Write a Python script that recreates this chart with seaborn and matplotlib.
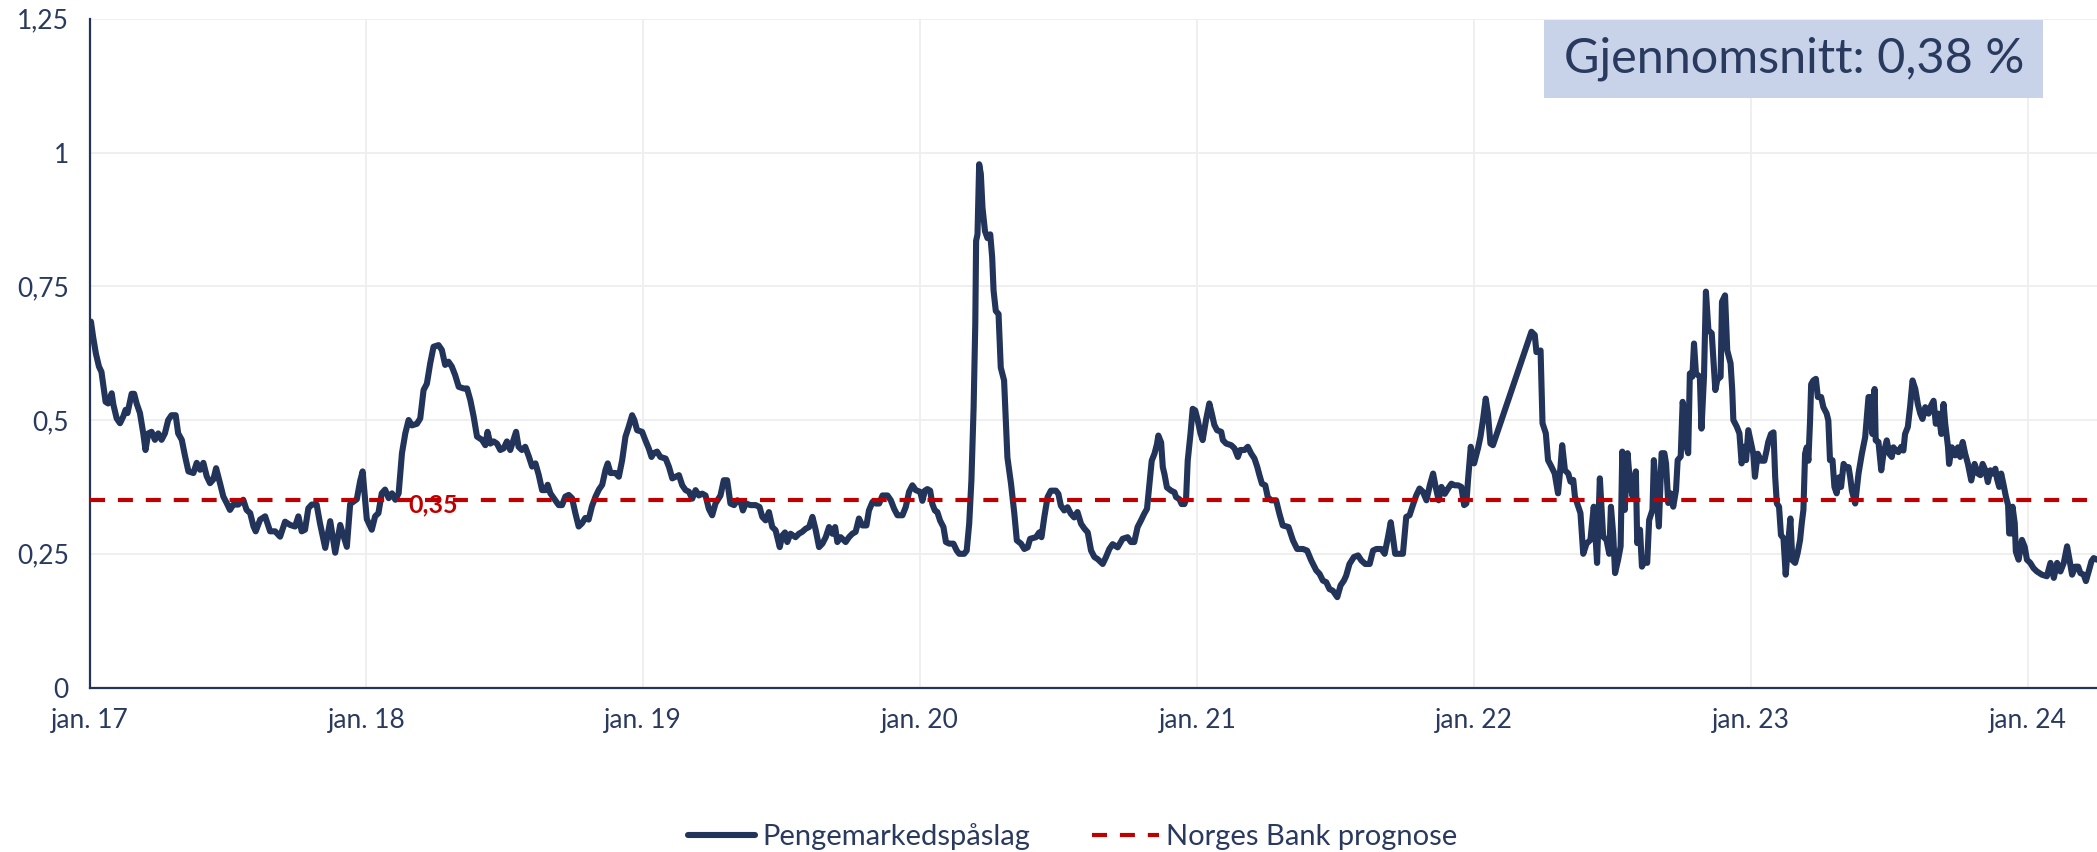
import numpy as np
import pandas as pd
import matplotlib
matplotlib.use('Agg')
import matplotlib.pyplot as plt
import matplotlib.dates as mdates
from matplotlib.patches import Rectangle
import seaborn as sns

# ==============================================================================
# DATA  (dato som desimalår, påslag i prosentpoeng)
# ==============================================================================
AAR_2017 = [2017.005, 2017.013, 2017.023, 2017.034, 2017.043, 2017.049, 2017.058, 2017.067, 2017.080, 2017.086,
            2017.098, 2017.110, 2017.122, 2017.130, 2017.137, 2017.152, 2017.161, 2017.170, 2017.182, 2017.194,
            2017.202, 2017.212, 2017.224, 2017.236, 2017.248, 2017.260, 2017.272, 2017.284, 2017.296, 2017.311,
            2017.320, 2017.333, 2017.345, 2017.357, 2017.375, 2017.387, 2017.399, 2017.411, 2017.423, 2017.435,
            2017.447, 2017.457, 2017.471, 2017.483, 2017.495, 2017.507, 2017.519, 2017.537, 2017.555, 2017.567,
            2017.580, 2017.592, 2017.600, 2017.616, 2017.634, 2017.652, 2017.670, 2017.688, 2017.706, 2017.724,
            2017.742, 2017.754, 2017.766, 2017.778, 2017.790, 2017.802, 2017.820, 2017.832, 2017.851, 2017.869,
            2017.887, 2017.905, 2017.929, 2017.941, 2017.965, 2017.977, 2017.986]
VERDI_2017 = [0.684, 0.655, 0.624, 0.600, 0.590, 0.568, 0.534, 0.531, 0.550, 0.529,
              0.503, 0.494, 0.507, 0.519, 0.513, 0.549, 0.549, 0.531, 0.513, 0.475,
              0.444, 0.475, 0.478, 0.463, 0.475, 0.463, 0.475, 0.500, 0.509, 0.509,
              0.475, 0.463, 0.432, 0.404, 0.401, 0.420, 0.407, 0.420, 0.395, 0.382,
              0.389, 0.410, 0.382, 0.357, 0.345, 0.332, 0.342, 0.342, 0.351, 0.332,
              0.326, 0.301, 0.292, 0.314, 0.320, 0.292, 0.292, 0.282, 0.310, 0.304,
              0.301, 0.320, 0.292, 0.295, 0.335, 0.342, 0.342, 0.307, 0.261, 0.311,
              0.252, 0.304, 0.263, 0.343, 0.352, 0.386, 0.404]

AAR_2018 = [2018.001, 2018.019, 2018.031, 2018.043, 2018.055, 2018.067, 2018.080, 2018.092, 2018.104, 2018.116,
            2018.128, 2018.140, 2018.152, 2018.164, 2018.182, 2018.194, 2018.206, 2018.218, 2018.230, 2018.242,
            2018.260, 2018.272, 2018.284, 2018.296, 2018.308, 2018.320, 2018.333, 2018.351, 2018.363, 2018.375,
            2018.387, 2018.399, 2018.417, 2018.429, 2018.437, 2018.447, 2018.459, 2018.471, 2018.483, 2018.495,
            2018.507, 2018.519, 2018.529, 2018.540, 2018.549, 2018.561, 2018.573, 2018.586, 2018.598, 2018.610,
            2018.622, 2018.634, 2018.646, 2018.654, 2018.664, 2018.676, 2018.694, 2018.706, 2018.718, 2018.730,
            2018.742, 2018.754, 2018.766, 2018.778, 2018.790, 2018.802, 2018.814, 2018.827, 2018.839, 2018.851,
            2018.863, 2018.871, 2018.881, 2018.899, 2018.911, 2018.923, 2018.935, 2018.947, 2018.959, 2018.967,
            2018.977, 2018.995]
VERDI_2018 = [0.315, 0.295, 0.320, 0.326, 0.363, 0.370, 0.354, 0.363, 0.351, 0.363,
              0.438, 0.475, 0.500, 0.490, 0.493, 0.503, 0.556, 0.568, 0.606, 0.637,
              0.640, 0.631, 0.603, 0.609, 0.600, 0.584, 0.562, 0.559, 0.559, 0.537,
              0.506, 0.469, 0.463, 0.453, 0.478, 0.456, 0.460, 0.456, 0.444, 0.447,
              0.460, 0.444, 0.460, 0.478, 0.450, 0.444, 0.450, 0.432, 0.413, 0.419,
              0.397, 0.369, 0.369, 0.379, 0.363, 0.354, 0.341, 0.341, 0.357, 0.360,
              0.354, 0.326, 0.301, 0.307, 0.317, 0.314, 0.339, 0.357, 0.370, 0.379,
              0.407, 0.419, 0.401, 0.401, 0.394, 0.425, 0.469, 0.488, 0.509, 0.500,
              0.481, 0.478]

AAR_2019 = [2019.007, 2019.019, 2019.029, 2019.037, 2019.049, 2019.061, 2019.080, 2019.092, 2019.104, 2019.116,
            2019.128, 2019.140, 2019.152, 2019.164, 2019.176, 2019.188, 2019.200, 2019.212, 2019.224, 2019.236,
            2019.248, 2019.260, 2019.278, 2019.290, 2019.302, 2019.314, 2019.327, 2019.339, 2019.351, 2019.359,
            2019.369, 2019.387, 2019.405, 2019.419, 2019.429, 2019.441, 2019.453, 2019.465, 2019.477, 2019.492,
            2019.501, 2019.511, 2019.519, 2019.531, 2019.549, 2019.561, 2019.573, 2019.586, 2019.598, 2019.610,
            2019.622, 2019.634, 2019.646, 2019.658, 2019.670, 2019.682, 2019.692, 2019.700, 2019.712, 2019.730,
            2019.742, 2019.754, 2019.766, 2019.778, 2019.790, 2019.805, 2019.814, 2019.827, 2019.839, 2019.851,
            2019.863, 2019.881, 2019.893, 2019.905, 2019.917, 2019.935, 2019.947, 2019.959, 2019.971, 2019.983,
            2019.998]
VERDI_2019 = [0.462, 0.447, 0.431, 0.438, 0.441, 0.431, 0.428, 0.4125, 0.391, 0.394,
              0.397, 0.378, 0.369, 0.366, 0.353, 0.369, 0.359, 0.3625, 0.359, 0.334,
              0.322, 0.344, 0.359, 0.3875, 0.3875, 0.344, 0.341, 0.350, 0.347, 0.331,
              0.344, 0.341, 0.341, 0.3375, 0.319, 0.3125, 0.328, 0.300, 0.294, 0.2625,
              0.284, 0.290, 0.272, 0.2875, 0.281, 0.2875, 0.291, 0.297, 0.300, 0.319,
              0.294, 0.2625, 0.269, 0.281, 0.300, 0.2875, 0.300, 0.272, 0.281, 0.272,
              0.281, 0.2875, 0.291, 0.316, 0.303, 0.303, 0.331, 0.347, 0.344, 0.344,
              0.359, 0.359, 0.350, 0.334, 0.322, 0.322, 0.3375, 0.366, 0.378, 0.369,
              0.366]

AAR_2020 = [2020.001, 2020.007, 2020.016, 2020.025, 2020.035, 2020.043, 2020.052, 2020.061, 2020.071, 2020.083,
            2020.092, 2020.104, 2020.119, 2020.131, 2020.140, 2020.158, 2020.167, 2020.176, 2020.184, 2020.192,
            2020.198, 2020.201, 2020.206, 2020.212, 2020.218, 2020.224, 2020.233, 2020.242, 2020.252, 2020.259,
            2020.264, 2020.272, 2020.282, 2020.290, 2020.302, 2020.314, 2020.327, 2020.339, 2020.348, 2020.363,
            2020.375, 2020.387, 2020.396, 2020.417, 2020.429, 2020.437, 2020.447, 2020.459, 2020.471, 2020.489,
            2020.498, 2020.507, 2020.519, 2020.531, 2020.543, 2020.555, 2020.567, 2020.580, 2020.592, 2020.604,
            2020.616, 2020.628, 2020.640, 2020.658, 2020.670, 2020.682, 2020.694, 2020.712, 2020.730, 2020.748,
            2020.760, 2020.772, 2020.784, 2020.796, 2020.808, 2020.818, 2020.827, 2020.835, 2020.845, 2020.854,
            2020.859, 2020.869, 2020.875, 2020.881, 2020.890, 2020.905, 2020.917, 2020.923, 2020.935, 2020.943,
            2020.953, 2020.959, 2020.965, 2020.975, 2020.983, 2020.992]
VERDI_2020 = [0.362, 0.349, 0.368, 0.371, 0.368, 0.343, 0.331, 0.328, 0.312, 0.300,
              0.272, 0.269, 0.269, 0.256, 0.250, 0.250, 0.256, 0.306, 0.387, 0.524,
              0.680, 0.835, 0.847, 0.978, 0.960, 0.897, 0.853, 0.840, 0.847, 0.804,
              0.742, 0.704, 0.698, 0.598, 0.574, 0.430, 0.381, 0.325, 0.275, 0.269,
              0.259, 0.262, 0.278, 0.281, 0.290, 0.281, 0.318, 0.356, 0.368, 0.368,
              0.362, 0.340, 0.331, 0.337, 0.325, 0.318, 0.328, 0.306, 0.297, 0.290,
              0.256, 0.244, 0.240, 0.231, 0.244, 0.259, 0.268, 0.262, 0.278, 0.281,
              0.272, 0.272, 0.300, 0.312, 0.325, 0.334, 0.381, 0.424, 0.437, 0.455,
              0.471, 0.458, 0.412, 0.399, 0.374, 0.368, 0.365, 0.356, 0.352, 0.343,
              0.343, 0.352, 0.424, 0.474, 0.521, 0.518]

AAR_2021 = [2021.001, 2021.011, 2021.019, 2021.031, 2021.043, 2021.052, 2021.061, 2021.071, 2021.086, 2021.092,
            2021.104, 2021.122, 2021.134, 2021.146, 2021.155, 2021.170, 2021.182, 2021.194, 2021.206, 2021.216,
            2021.224, 2021.233, 2021.245, 2021.254, 2021.266, 2021.284, 2021.296, 2021.308, 2021.329, 2021.345,
            2021.360, 2021.381, 2021.396, 2021.411, 2021.429, 2021.441, 2021.453, 2021.465, 2021.477, 2021.489,
            2021.505, 2021.517, 2021.529, 2021.537, 2021.549, 2021.565, 2021.580, 2021.592, 2021.606, 2021.622,
            2021.634, 2021.646, 2021.664, 2021.676, 2021.688, 2021.698, 2021.706, 2021.714, 2021.730, 2021.742,
            2021.754, 2021.766, 2021.778, 2021.790, 2021.802, 2021.814, 2021.827, 2021.839, 2021.851, 2021.859,
            2021.871, 2021.881, 2021.893, 2021.905, 2021.917, 2021.929, 2021.941, 2021.953, 2021.963, 2021.971,
            2021.977, 2021.987, 2021.999]
VERDI_2021 = [0.500, 0.475, 0.4625, 0.500, 0.531, 0.512, 0.491, 0.481, 0.478, 0.4625,
              0.456, 0.453, 0.447, 0.431, 0.444, 0.444, 0.450, 0.4375, 0.428, 0.4125,
              0.397, 0.381, 0.378, 0.356, 0.350, 0.350, 0.325, 0.303, 0.300, 0.275,
              0.259, 0.259, 0.256, 0.2375, 0.219, 0.2125, 0.200, 0.197, 0.184, 0.181,
              0.169, 0.191, 0.200, 0.209, 0.231, 0.244, 0.247, 0.2375, 0.231, 0.231,
              0.256, 0.259, 0.259, 0.250, 0.281, 0.309, 0.281, 0.250, 0.250, 0.250,
              0.319, 0.322, 0.341, 0.359, 0.372, 0.366, 0.350, 0.378, 0.400, 0.378,
              0.350, 0.375, 0.362, 0.372, 0.381, 0.378, 0.378, 0.375, 0.341, 0.344,
              0.3875, 0.450, 0.419]

AAR_2022 = [2022.013, 2022.022, 2022.031, 2022.041, 2022.049, 2022.058, 2022.067, 2022.206, 2022.218, 2022.224,
            2022.239, 2022.246, 2022.258, 2022.266, 2022.278, 2022.290, 2022.302, 2022.311, 2022.317, 2022.327,
            2022.339, 2022.347, 2022.357, 2022.363, 2022.375, 2022.383, 2022.393, 2022.405, 2022.419, 2022.431,
            2022.443, 2022.453, 2022.465, 2022.477, 2022.487, 2022.493, 2022.501, 2022.508, 2022.519, 2022.528,
            2022.534, 2022.543, 2022.553, 2022.561, 2022.571, 2022.583, 2022.588, 2022.598, 2022.605, 2022.616,
            2022.624, 2022.631, 2022.643, 2022.648, 2022.658, 2022.666, 2022.676, 2022.686, 2022.692, 2022.700,
            2022.708, 2022.718, 2022.728, 2022.734, 2022.745, 2022.752, 2022.760, 2022.766, 2022.772, 2022.778,
            2022.787, 2022.793, 2022.800, 2022.814, 2022.820, 2022.829, 2022.836, 2022.845, 2022.857, 2022.863,
            2022.870, 2022.877, 2022.889, 2022.894, 2022.905, 2022.913, 2022.925, 2022.931, 2022.935, 2022.947,
            2022.957, 2022.965, 2022.973, 2022.981, 2022.989]
VERDI_2022 = [0.447, 0.469, 0.500, 0.540, 0.512, 0.456, 0.453, 0.665, 0.659, 0.627,
              0.630, 0.494, 0.475, 0.425, 0.413, 0.400, 0.363, 0.413, 0.453, 0.406,
              0.400, 0.385, 0.388, 0.357, 0.338, 0.326, 0.250, 0.269, 0.276, 0.338,
              0.233, 0.391, 0.282, 0.276, 0.250, 0.338, 0.288, 0.214, 0.239, 0.264,
              0.441, 0.332, 0.438, 0.388, 0.357, 0.404, 0.270, 0.295, 0.226, 0.239,
              0.233, 0.313, 0.332, 0.425, 0.357, 0.301, 0.438, 0.438, 0.419, 0.345,
              0.363, 0.338, 0.369, 0.425, 0.432, 0.534, 0.512, 0.450, 0.438, 0.587,
              0.581, 0.643, 0.587, 0.581, 0.484, 0.581, 0.740, 0.668, 0.662, 0.612,
              0.556, 0.575, 0.581, 0.721, 0.733, 0.630, 0.606, 0.556, 0.500, 0.488,
              0.475, 0.419, 0.450, 0.425, 0.481]

AAR_2023 = [2023.007, 2023.013, 2023.023, 2023.035, 2023.047, 2023.055, 2023.061, 2023.071, 2023.080, 2023.086,
            2023.092, 2023.100, 2023.107, 2023.116, 2023.124, 2023.134, 2023.141, 2023.148, 2023.158, 2023.167,
            2023.176, 2023.182, 2023.188, 2023.194, 2023.200, 2023.206, 2023.212, 2023.216, 2023.224, 2023.233,
            2023.240, 2023.252, 2023.260, 2023.272, 2023.278, 2023.284, 2023.293, 2023.300, 2023.308, 2023.317,
            2023.324, 2023.333, 2023.341, 2023.351, 2023.357, 2023.363, 2023.375, 2023.387, 2023.399, 2023.411,
            2023.423, 2023.433, 2023.437, 2023.445, 2023.449, 2023.459, 2023.469, 2023.477, 2023.489, 2023.498,
            2023.507, 2023.513, 2023.522, 2023.531, 2023.541, 2023.549, 2023.555, 2023.565, 2023.573, 2023.582,
            2023.592, 2023.601, 2023.610, 2023.618, 2023.628, 2023.640, 2023.649, 2023.658, 2023.666, 2023.676,
            2023.686, 2023.694, 2023.700, 2023.710, 2023.714, 2023.724, 2023.736, 2023.746, 2023.754, 2023.763,
            2023.772, 2023.782, 2023.794, 2023.806, 2023.818, 2023.827, 2023.835, 2023.845, 2023.854, 2023.863,
            2023.871, 2023.881, 2023.887, 2023.895, 2023.902, 2023.911, 2023.919, 2023.927, 2023.931, 2023.939,
            2023.943, 2023.951, 2023.955, 2023.965, 2023.977, 2023.987, 2023.995]
VERDI_2023 = [0.437, 0.394, 0.437, 0.424, 0.424, 0.443, 0.459, 0.474, 0.477, 0.394,
              0.344, 0.338, 0.285, 0.279, 0.211, 0.276, 0.316, 0.238, 0.233, 0.251,
              0.276, 0.307, 0.332, 0.437, 0.449, 0.424, 0.499, 0.567, 0.574, 0.577,
              0.543, 0.543, 0.524, 0.512, 0.499, 0.425, 0.425, 0.375, 0.363, 0.393,
              0.375, 0.418, 0.412, 0.412, 0.393, 0.368, 0.344, 0.400, 0.437, 0.468,
              0.543, 0.543, 0.474, 0.558, 0.462, 0.459, 0.406, 0.437, 0.462, 0.437,
              0.431, 0.449, 0.443, 0.440, 0.450, 0.443, 0.474, 0.487, 0.524, 0.574,
              0.558, 0.530, 0.512, 0.502, 0.524, 0.512, 0.527, 0.536, 0.493, 0.512,
              0.474, 0.530, 0.493, 0.450, 0.418, 0.449, 0.434, 0.449, 0.431, 0.459,
              0.437, 0.418, 0.387, 0.418, 0.400, 0.397, 0.418, 0.406, 0.384, 0.406,
              0.400, 0.409, 0.390, 0.375, 0.400, 0.378, 0.357, 0.341, 0.288, 0.288,
              0.338, 0.307, 0.254, 0.239, 0.276, 0.263, 0.239]

AAR_2024 = [2024.007, 2024.019, 2024.031, 2024.049, 2024.067, 2024.080, 2024.092, 2024.104, 2024.116, 2024.128,
            2024.140, 2024.148, 2024.158, 2024.170, 2024.180, 2024.188, 2024.200, 2024.208, 2024.218, 2024.228,
            2024.236, 2024.248]
VERDI_2024 = [0.233, 0.223, 0.217, 0.211, 0.208, 0.233, 0.205, 0.233, 0.217, 0.233,
              0.264, 0.241, 0.211, 0.226, 0.226, 0.214, 0.211, 0.199, 0.217, 0.236,
              0.242, 0.239]

NB_PROGNOSE = 0.35
GJENNOMSNITT = 0.38
Y_TICKS = [0, 0.25, 0.5, 0.75, 1, 1.25]
Y_LABELS = ['0', '0,25', '0,5', '0,75', '1', '1,25']

# ==============================================================================
# STYLE
# ==============================================================================
NAVY = '#23345a'
TEXT = '#2a3a5f'
RED = '#c00000'
BOX = '#c8d3ea'
GRID = '#eeeeee'

sns.set_style('white')
plt.rcParams['font.family'] = ['Lato', 'DejaVu Sans']


def til_dato(aar):
    aar = np.asarray(aar, dtype=float)
    return pd.Timestamp('2017-01-01') + pd.to_timedelta((aar - 2017) * 365.25, unit='D')


aar = AAR_2017 + AAR_2018 + AAR_2019 + AAR_2020 + AAR_2021 + AAR_2022 + AAR_2023 + AAR_2024
verdi = VERDI_2017 + VERDI_2018 + VERDI_2019 + VERDI_2020 + VERDI_2021 + VERDI_2022 + VERDI_2023 + VERDI_2024
df = pd.DataFrame({'dato': til_dato(aar), 'paaslag': verdi})

# ==============================================================================
# PLOT
# ==============================================================================
fig = plt.figure(figsize=(20.97, 8.52), dpi=100)
ax = fig.add_axes([0.0427, 0.193, 0.9573, 0.785])

sns.lineplot(data=df, x='dato', y='paaslag', ax=ax, color=NAVY, lw=4.4,
             estimator=None, label='Pengemarkedspåslag', zorder=3)
ax.axhline(NB_PROGNOSE, color=RED, lw=3, linestyle=(0, (3.6, 3.1)),
           label='Norges Bank prognose', zorder=4)

ax.text(til_dato(2018.15), NB_PROGNOSE - 0.008, f'{NB_PROGNOSE:.2f}'.replace('.', ','),
        color=RED, fontsize=18, fontweight='bold', va='center', ha='left', zorder=5)

ax.set_xlim(pd.Timestamp('2017-01-01'), df['dato'].iloc[-1])
ax.set_ylim(0, 1.25)
ax.set_yticks(Y_TICKS)
ax.set_yticklabels(Y_LABELS)
ax.xaxis.set_major_locator(mdates.YearLocator())
ax.xaxis.set_major_formatter(mdates.DateFormatter('jan. %y'))
ax.set_xlabel('')
ax.set_ylabel('')

ax.grid(True, color=GRID, lw=1.3)
ax.set_axisbelow(True)
for side in ['top', 'right']:
    ax.spines[side].set_visible(False)
for side in ['left', 'bottom']:
    ax.spines[side].set_color(NAVY)
    ax.spines[side].set_linewidth(1.6)
ax.tick_params(axis='both', direction='inout', length=12, width=1.4,
               color=NAVY, labelcolor=TEXT, labelsize=19, pad=9)

# Gjennomsnitt-boks
ax.add_patch(Rectangle((0.7245, 0.881), 0.2485, 0.117, transform=ax.transAxes,
                       facecolor=BOX, edgecolor='none', zorder=6, clip_on=False))
ax.text(0.849, 0.9395, f'Gjennomsnitt: {GJENNOMSNITT:.2f} %'.replace('.', ','),
        transform=ax.transAxes, ha='center', va='center', fontsize=35,
        color=TEXT, zorder=7)

ax.get_legend().remove()
handles, labels = ax.get_legend_handles_labels()
fig.legend(handles, labels, loc='center', bbox_to_anchor=(0.5115, 0.018), ncol=2,
           frameon=False, fontsize=21, labelcolor=TEXT, handlelength=2.3,
           handletextpad=0.25, columnspacing=2.1)

fig.savefig('out.png', dpi=100)
